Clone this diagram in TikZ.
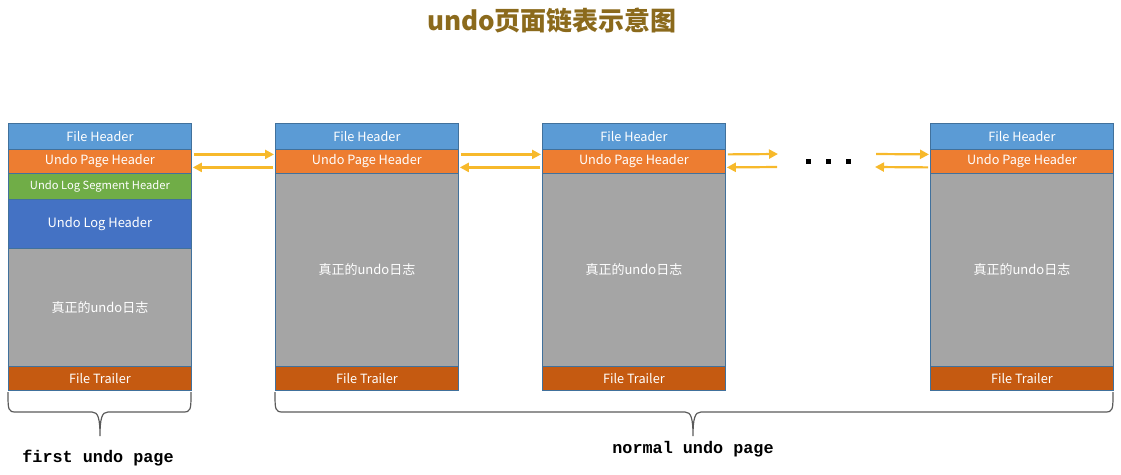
\documentclass[tikz,border=0pt]{standalone}
\usepackage{fontspec}
\newfontfamily\cjk{Noto Sans CJK SC}
\newfontfamily\monof{Liberation Mono}
\usetikzlibrary{arrows.meta}
\definecolor{fhblue}{HTML}{5B9BD5}
\definecolor{uporange}{HTML}{ED7D31}
\definecolor{lsgreen}{HTML}{70AD47}
\definecolor{lhblue}{HTML}{4472C4}
\definecolor{bodygray}{HTML}{A5A5A5}
\definecolor{trorange}{HTML}{C55A11}
\definecolor{edge}{HTML}{41719C}
\definecolor{linkyel}{HTML}{F7B92B}
\definecolor{brgray}{HTML}{5A5A5A}
\definecolor{titlebrown}{HTML}{8B6A1C}
\tikzset{
  blk/.style={draw=edge, line width=.8pt, text=white, minimum width=183pt,
    inner sep=0pt, anchor=north west, font=\cjk\fontsize{12.7}{14}\selectfont},
  fh/.style={blk, fill=fhblue, minimum height=26pt},
  uph/.style={blk, fill=uporange, minimum height=24pt},
  lsh/.style={blk, fill=lsgreen, minimum height=26pt, font=\cjk\fontsize{11.2}{13}\selectfont},
  lh/.style={blk, fill=lhblue, minimum height=49pt, font=\cjk\fontsize{12.9}{15}\selectfont},
  body/.style={blk, fill=bodygray, minimum height=#1, font=\cjk\fontsize{13}{15}\selectfont},
  tr/.style={blk, fill=trorange, minimum height=24pt},
  lnk/.style={draw=linkyel, line width=2.2pt, shorten <=2pt, shorten >=1pt,
    -{Triangle[length=9pt,width=9pt]}},
  brc/.style={draw=brgray, line width=1.2pt},
  dotbox/.style={fill=black, inner sep=0pt, minimum size=5pt},
  lbl/.style={font=\monof\bfseries\fontsize{16.8}{18}\selectfont},
}
\begin{document}
\begin{tikzpicture}[x=1pt,y=-1pt] % ------ undo page list -----------------------------
    \useasboundingbox (0,0) rectangle (1121,474);
    \node [font=\cjk\bfseries\fontsize{26}{30}\selectfont, text=titlebrown] (ttl) at (552,20) {undo页面链表示意图};
    % first undo page
    \node [fh] (fh0) at (8,123) {File Header};
    \node [uph] (uph0) at (8,149) {Undo Page Header};
    \node [lsh] (lsh0) at (8,173) {Undo Log Segment Header};
    \node [lh] (lh0) at (8,199) {Undo Log Header};
    \node [body=118pt] (body0) at (8,248) {真正的undo日志};
    \node [tr] (tr0) at (8,366) {File Trailer};
    % normal undo pages
    \foreach \i/\x in {1/275,2/542,3/930} {
      \node [fh] (fh\i) at (\x,123) {File Header};
      \node [uph] (uph\i) at (\x,149) {Undo Page Header};
      \node [body=193pt] (body\i) at (\x,173) {真正的undo日志};
      \node [tr] (tr\i) at (\x,366) {File Trailer};
    }
    % links
    \draw [lnk] ([yshift=7pt]uph0.east) -- ([yshift=7pt]uph1.west);
    \draw [lnk] ([yshift=-6pt]uph1.west) -- ([yshift=-6pt]uph0.east);
    \draw [lnk] ([yshift=7pt]uph1.east) -- ([yshift=7pt]uph2.west);
    \draw [lnk] ([yshift=-6pt]uph2.west) -- ([yshift=-6pt]uph1.east);
    \coordinate (gapL) at (779,161);
    \coordinate (gapR) at (874,161);
    \draw [lnk] ([yshift=7pt]uph2.east) -- ([yshift=7pt]gapL);
    \draw [lnk] ([yshift=-6pt]gapL) -- ([yshift=-6pt]uph2.east);
    \draw [lnk] ([yshift=7pt]gapR) -- ([yshift=7pt]uph3.west);
    \draw [lnk] ([yshift=-6pt]uph3.west) -- ([yshift=-6pt]gapR);
    \foreach \i/\x in {1/808,2/828,3/848}
      \node [dotbox] (dot\i) at (\x,161) {};
    % braces
    \draw [brc] (8,392) .. controls (8,410) and (8,412) .. (16,412) -- (92,412)
      .. controls (98,412) and (100,418) .. (100,436)
      .. controls (100,418) and (102,412) .. (108,412) -- (183,412)
      .. controls (191,412) and (191,410) .. (191,392);
    \draw [brc] (275,392) .. controls (275,410) and (275,412) .. (283,412) -- (685,412)
      .. controls (691,412) and (693,418) .. (693,436)
      .. controls (693,418) and (695,412) .. (701,412) -- (1105,412)
      .. controls (1113,412) and (1113,410) .. (1113,392);
    \node [lbl] (firstlbl) at (98,458) {first undo page};
    \node [lbl] (normallbl) at (693,449) {normal undo page};
\end{tikzpicture}
\end{document}
